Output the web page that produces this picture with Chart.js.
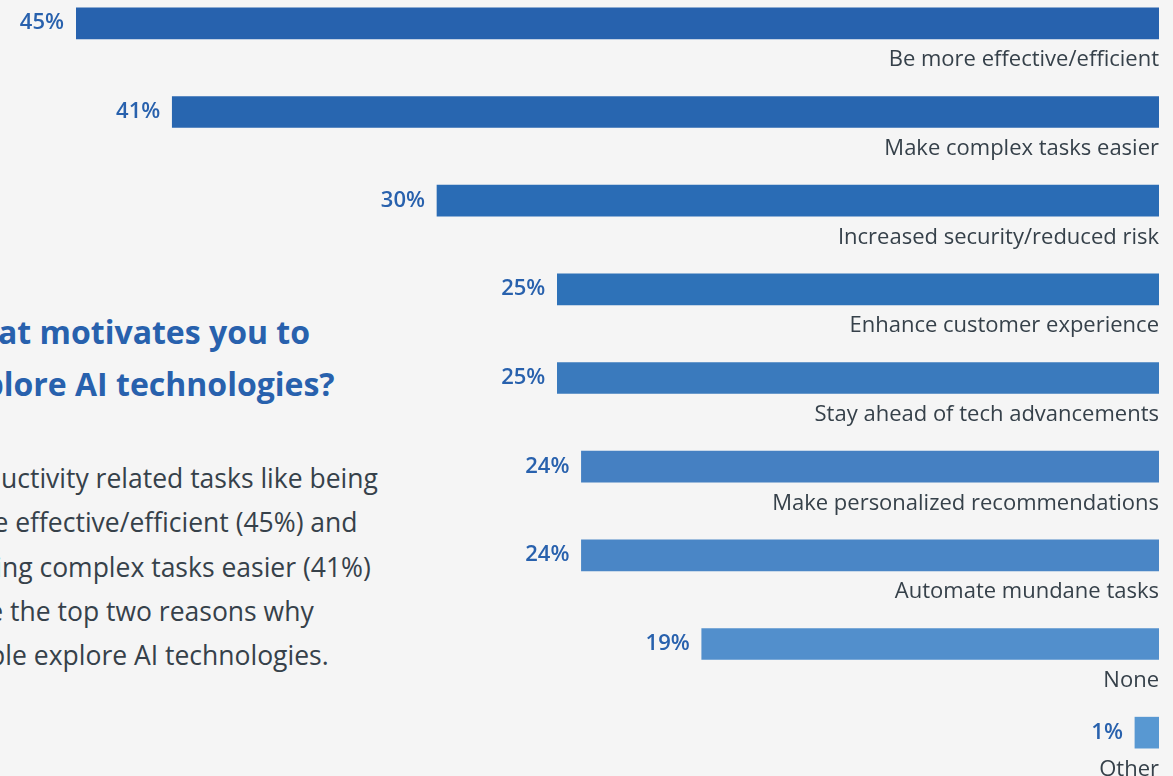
<!DOCTYPE html>
<html>
<head>
<meta charset="utf-8">
<script src="https://cdn.jsdelivr.net/npm/chart.js@4.4.1/dist/chart.umd.min.js"></script>
<style>
    html, body {
        margin: 0;
        padding: 0;
        width: 1173px;
        height: 776px;
        overflow: hidden;
        background: #f5f5f5;
        font-family: 'Open Sans', sans-serif;
    }
    .wrap {
        position: absolute;
        left: 0;
        top: -21px;
        width: 1173px;
        height: 798px;
    }
    .title {
        position: absolute;
        left: -50px;
        top: 306px;
        color: #2861ad;
        font-weight: bold;
        font-size: 32px;
        line-height: 52px;
        white-space: nowrap;
    }
    .body-text {
        position: absolute;
        left: -60px;
        top: 456px;
        color: #36414a;
        font-size: 26.5px;
        line-height: 44.3px;
        white-space: nowrap;
    }
</style>
</head>
<body>
<div class="title" id="title">What motivates you to<br>explore AI technologies?</div>
<div class="body-text" id="bodyText">Productivity related tasks like being<br>more effective/efficient (45%) and<br>making complex tasks easier (41%)<br>were the top two reasons why<br>people explore AI technologies.</div>
<div class="wrap"><canvas id="motivesChart"></canvas></div>
<script>
// Chart data
const categories = [
    'Be more effective/efficient',
    'Make complex tasks easier',
    'Increased security/reduced risk',
    'Enhance customer experience',
    'Stay ahead of tech advancements',
    'Make personalized recommendations',
    'Automate mundane tasks',
    'None',
    'Other'
];
const values = [45, 41, 30, 25, 25, 24, 24, 19, 1];
const barColors = [
    '#2762ae', '#2866b0', '#2a6cb5', '#2e72b8', '#3a7abd',
    '#4580c2', '#4a86c6', '#528fcc', '#5898d2'
];

const VALUE_COLOR = '#2861ad';
const LABEL_COLOR = '#36414a';

// The text block runs off the left edge of the picture, so shift it
// so the hidden part of the first word sits just outside the page
function measure(text, font) {
    const c = document.createElement('canvas').getContext('2d');
    c.font = font;
    return c.measureText(text).width;
}
document.getElementById('title').style.left =
    (-measure('Wh', 'bold 32px "Open Sans"') - 2) + 'px';
document.getElementById('bodyText').style.left =
    (-measure('Prod', '26.5px "Open Sans"') + 1) + 'px';

// Draws the value before each bar and the category under it
const barLabels = {
    id: 'barLabels',
    afterDatasetsDraw(chart) {
        const { ctx, chartArea } = chart;
        const meta = chart.getDatasetMeta(0);
        ctx.save();
        ctx.textAlign = 'right';
        ctx.textBaseline = 'alphabetic';
        meta.data.forEach((bar, i) => {
            ctx.fillStyle = VALUE_COLOR;
            ctx.font = '600 22px "Open Sans"';
            ctx.fillText(values[i] + '%', bar.x - 12, bar.y + 6);

            ctx.fillStyle = LABEL_COLOR;
            ctx.font = '22px "Open Sans"';
            ctx.fillText(categories[i], chartArea.right, bar.y + 43);
        });
        ctx.restore();
    }
};

new Chart(document.getElementById('motivesChart'), {
    type: 'bar',
    data: {
        labels: categories,
        datasets: [{
            data: values,
            backgroundColor: barColors,
            borderWidth: 0,
            barThickness: 31
        }]
    },
    options: {
        indexAxis: 'y',
        responsive: true,
        maintainAspectRatio: false,
        animation: false,
        layout: {
            padding: { left: 76, right: 14, top: 0, bottom: 0 }
        },
        plugins: {
            legend: { display: false },
            tooltip: { enabled: false }
        },
        scales: {
            x: {
                display: false,
                reverse: true,
                min: 0,
                max: 45
            },
            y: {
                display: false
            }
        }
    },
    plugins: [barLabels]
});
</script>
</body>
</html>
